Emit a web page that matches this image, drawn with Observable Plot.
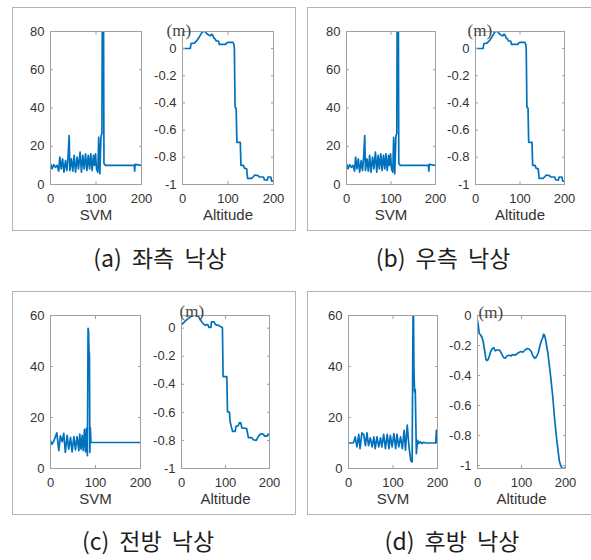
<!DOCTYPE html>
<html><head><meta charset="utf-8">
<script src="https://cdn.jsdelivr.net/npm/d3@7"></script>
<script src="https://cdn.jsdelivr.net/npm/@observablehq/plot@0.6"></script>
<style>
html,body{margin:0;padding:0;background:#fff;}
#root{position:relative;width:591px;height:560px;overflow:hidden;background:#fff;}
.panel{position:absolute;border:1px solid #b4b4b4;box-sizing:border-box;}
.cap{position:absolute;font-family:"Noto Sans CJK KR",sans-serif;font-size:23px;color:#1e1e1e;white-space:nowrap;transform:translate(-50%,-50%);word-spacing:5px;line-height:1;}
</style></head><body><div id="root"></div>
<script>
// ---- data (x = sample index, y = value) ----
const xTicks = [0, 100, 200];
const svmTicks80 = [0, 20, 40, 60, 80];
const svmTicks60 = [0, 20, 40, 60];
const altTicks = [-1, -0.8, -0.6, -0.4, -0.2, 0];
const captions = ["(a) 좌측 낙상", "(b) 우측 낙상", "(c) 전방 낙상", "(d) 후방 낙상"];

const svmA = [[0,10.8],[3.5,8.2],[7,10.4],[11,9],[14.5,10],[18,7],[20.5,14.3],[23.5,8.2],[26.5,13.4],[29.5,6.4],[33,12.5],[36,7.3],[38.5,14],[41,25.6],[42.5,7.3],[46,13.4],[49,7],[52,15.2],[55,6.4],[58.5,14.3],[61.5,8.2],[65,16.9],[68,6.4],[71,15.2],[74,8.2],[77,16],[80,7.3],[83,15.2],[86,8.2],[88.5,16],[91.5,7.3],[94.5,15.2],[96.5,10],[99,16],[101,8.2],[104,6.4],[106,24.7],[108.5,5.6],[111,25.6],[113,26.5],[114.5,130],[116,130],[117.5,11],[121,10],[160,10],[184,10],[185,7],[186,10.5],[200,10]];
const altA = [[0,0],[17,0],[19,0.037],[26,0.04],[29,0.05],[32,0.06],[37,0.085],[42,0.115],[45,0.125],[50,0.125],[53,0.11],[57,0.1],[61,0.093],[64,0.105],[67,0.095],[69,0.075],[72,0.07],[74,0.055],[79,0.055],[81,0.03],[95,0.03],[97,0.04],[100,0.045],[111,0.045],[113,0.03],[114,0],[115.5,-0.43],[118,-0.44],[119.5,-0.69],[127,-0.69],[128.5,-0.86],[134,-0.86],[136,-0.88],[141,-0.885],[143,-0.955],[152,-0.955],[155,-0.945],[159,-0.93],[166,-0.935],[169,-0.945],[178,-0.945],[180,-0.965],[186,-0.968],[188,-0.945],[194,-0.945],[196,-0.975],[200,-0.975]];
const svmB = svmA.map(d => d.slice());
const altB = altA.map(d => d.slice());
const svmC = [[0,10.9],[3,9.5],[6.5,10.5],[10,12],[14,14],[18.5,7],[22,12.8],[26,10.5],[29.5,13.8],[33,6.3],[37,13],[40.5,7.6],[44.5,12.2],[48,6.5],[52,12.5],[55.5,7.3],[59,12.5],[63,7],[65,13.5],[68,7.6],[70.5,13],[73,7],[75.5,15.4],[78,6.5],[80,15.7],[82,5],[83.5,55],[84.5,54],[85.5,46],[86.5,45],[87.5,6.3],[88.5,16],[90,10.2],[200,10.2]];
const altC = [[0,0.025],[5,0.04],[10,0.055],[16,0.07],[22,0.085],[27,0.095],[35,0.095],[40,0.076],[46,0.045],[50,0.03],[54,0.02],[58,0.025],[61,0.02],[62,0.005],[67,0.005],[68,0.045],[74,0.045],[77,0.025],[84,0.02],[88,0.012],[93,0.005],[94.5,-0.345],[103,-0.345],[104.5,-0.595],[109,-0.6],[110.5,-0.665],[113,-0.7],[116,-0.735],[122,-0.735],[124,-0.7],[129,-0.695],[131,-0.675],[135,-0.675],[137,-0.71],[148,-0.715],[152,-0.78],[160,-0.78],[163,-0.795],[170,-0.8],[174,-0.775],[179,-0.755],[186,-0.755],[189,-0.77],[194,-0.77],[197,-0.755],[200,-0.765]];
const svmD = [[0,10],[10,10],[12,10.5],[15,12.4],[19,8.5],[23,13.4],[26,7.8],[30,14],[34,13.4],[38,9],[41.5,14],[45,9],[49,12],[53,8.5],[57,12.4],[60,7.8],[64,12.4],[68,8.5],[72,12],[75,8.5],[79,13.4],[83,7.8],[87,13.4],[91,7.8],[94,13],[98,8.5],[102,13.7],[106,7.8],[109,13.4],[113,8.5],[117,12.4],[121,7.8],[125,15],[128,7.2],[132,17],[136,8.5],[140,3],[143,2.6],[145.5,75],[147,39],[148.5,30],[150,31],[152.5,5.8],[155,11],[158,9.8],[161,10.5],[165,9.8],[169,10.3],[173,10],[196,10],[197.5,15],[199,10],[200,10]];
const altD = [[0,-0.03],[2,-0.07],[4,-0.12],[7,-0.13],[10,-0.145],[13,-0.175],[16,-0.23],[19,-0.29],[21,-0.3],[24,-0.295],[27,-0.27],[30,-0.24],[34,-0.22],[37,-0.215],[40,-0.235],[44,-0.23],[50,-0.23],[55,-0.255],[59,-0.28],[63,-0.285],[67,-0.27],[72,-0.265],[76,-0.27],[80,-0.26],[85,-0.265],[90,-0.255],[95,-0.245],[99,-0.24],[103,-0.245],[108,-0.23],[113,-0.22],[118,-0.225],[122,-0.24],[126,-0.27],[130,-0.285],[134,-0.275],[138,-0.25],[142,-0.2],[145,-0.17],[148,-0.15],[150,-0.125],[152,-0.13],[154,-0.15],[157,-0.2],[160,-0.25],[166,-0.4],[171,-0.54],[175,-0.68],[179,-0.8],[183,-0.9],[186,-0.97],[189,-1.0],[193,-1.02],[198,-1.02],[200,-1.01]];

// ---- layout ----
const root = document.getElementById("root");
const panels = [
  {box:[12,7,296,231], cap:[160,257], svm:{L:50,T:31,R:141,B:184,data:svmA,dom:[0,80],ticks:svmTicks80}, alt:{L:182,T:31,R:273,B:184,data:altA,dom:[-1,0.125],m:[-16,-8]}},
  {box:[307,7,600,231], cap:[443,257], svm:{L:346,T:31,R:435,B:184,data:svmB,dom:[0,80],ticks:svmTicks80}, alt:{L:475,T:31,R:564,B:184,data:altB,dom:[-1,0.125],m:[-8,-8]}},
  {box:[12,291,296,515], cap:[148,540], svm:{L:50,T:315,R:140,B:468,data:svmC,dom:[0,60],ticks:svmTicks60}, alt:{L:181,T:315,R:269,B:468,data:altC,dom:[-1,0.09],m:[-2,-11]}},
  {box:[307,291,600,515], cap:[452,540], svm:{L:348,T:315,R:437,B:468,data:svmD,dom:[0,60],ticks:svmTicks60}, alt:{L:477,T:315,R:565,B:468,data:altD,dom:[-1.02,0],m:[1,-10]}}
];

const axisGray = "#a0a0a0";
const textGray = "#333333";
function subplot(c, yTicks, xLabel, mOff) {
  const ml = 45, mr = 10, mt = 20, mb = 50;
  const w = c.R - c.L, h = c.B - c.T;
  const marks = [
    Plot.line(c.data, {x: d => d[0], y: d => d[1], stroke: "#0072BD", strokeWidth: 1.7, clip: true}),
    Plot.frame({stroke: axisGray}),
    Plot.axisX(xTicks, {anchor: "bottom", tickSize: -3, fill: "none", stroke: axisGray, label: null}),
    Plot.axisX(xTicks, {anchor: "top", tickSize: -3, fill: "none", stroke: axisGray, label: null}),
    Plot.axisY(yTicks, {anchor: "left", tickSize: -3, fill: "none", stroke: axisGray, label: null}),
    Plot.axisY(yTicks, {anchor: "right", tickSize: -3, fill: "none", stroke: axisGray, label: null}),
    Plot.axisX(xTicks, {anchor: "bottom", tickSize: 0, tickPadding: 9, tickFormat: d => String(d), fill: textGray, fontSize: 13, label: null}),
    Plot.axisY(yTicks, {anchor: "left", tickSize: 0, tickPadding: 6, tickFormat: d => String(d), fill: textGray, fontSize: 13, label: null}),
    Plot.text([xLabel], {frameAnchor: "bottom", dy: 35, fontSize: 15, fill: textGray})
  ];
  if (mOff) marks.push(Plot.text(["(m)"], {frameAnchor: "top-left", textAnchor: "start", dx: mOff[0], dy: mOff[1], fontFamily: "'Liberation Serif', serif", fontSize: 17, fill: "#444"}));
  const chart = Plot.plot({
    width: w + ml + mr, height: h + mt + mb,
    marginLeft: ml, marginRight: mr, marginTop: mt, marginBottom: mb,
    x: {domain: [0, 200]}, y: {domain: c.dom},
    style: {background: "transparent", fontFamily: "'Liberation Sans', Arial, sans-serif", fontSize: "13px", color: textGray, overflow: "visible"},
    marks
  });
  chart.style.position = "absolute";
  chart.style.left = (c.L - ml) + "px";
  chart.style.top = (c.T - mt) + "px";
  root.appendChild(chart);
}

panels.forEach((p, i) => {
  const b = document.createElement("div");
  b.className = "panel";
  b.style.left = p.box[0] + "px"; b.style.top = p.box[1] + "px";
  b.style.width = (p.box[2] - p.box[0]) + "px"; b.style.height = (p.box[3] - p.box[1]) + "px";
  root.appendChild(b);
  subplot(p.svm, p.svm.ticks, "SVM", null);
  subplot(p.alt, altTicks, "Altitude", p.alt.m);
  const cap = document.createElement("div");
  cap.className = "cap";
  cap.textContent = captions[i];
  cap.style.left = p.cap[0] + "px"; cap.style.top = p.cap[1] + "px";
  root.appendChild(cap);
});
</script></body></html>
